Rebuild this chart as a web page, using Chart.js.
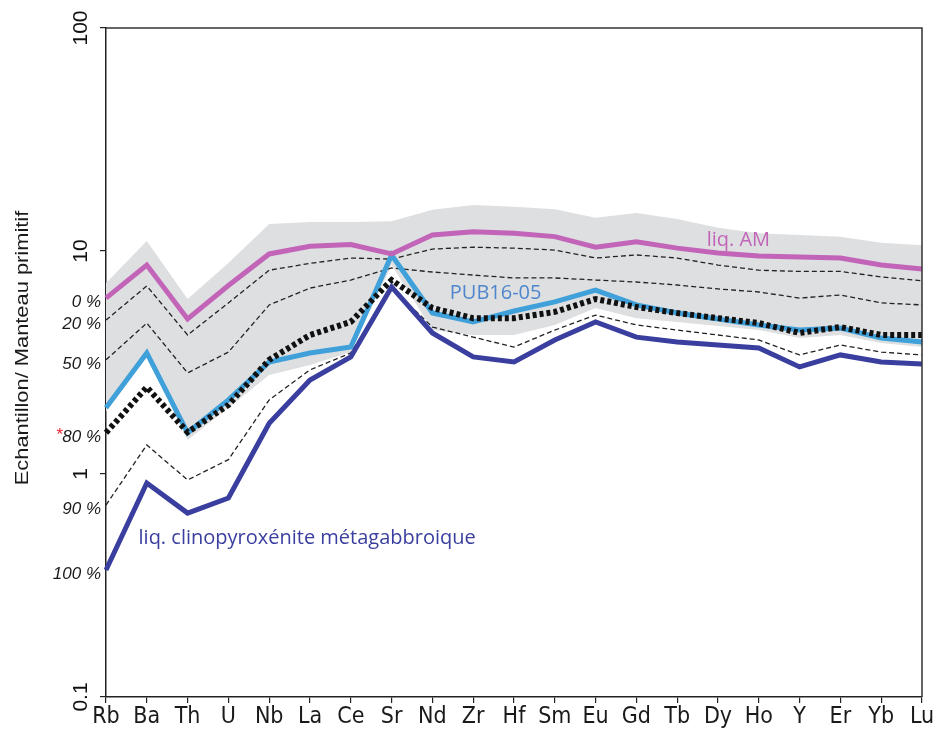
<!DOCTYPE html>
<html>
<head>
<meta charset="utf-8">
<script src="https://cdn.jsdelivr.net/npm/chart.js@4.4.1/dist/chart.umd.min.js"></script>
<style>
  html, body { margin: 0; padding: 0; background: #ffffff; }
  #wrap { width: 941px; height: 736px; position: relative; }
</style>
</head>
<body>
<div id="wrap"><canvas id="c" width="941" height="736"></canvas></div>
<script>
// ---- Data ----
const elements = ['Rb','Ba','Th','U','Nb','La','Ce','Sr','Nd','Zr','Hf','Sm','Eu','Gd','Tb','Dy','Ho','Y','Er','Yb','Lu'];
const yTickValues = [0.1, 1, 10, 100];
const yTickLabels = ['0.1', '1', '10', '100'];

const liqAM    = [6.15, 8.65, 4.96, 7.0, 9.7, 10.5, 10.7, 9.7, 11.8, 12.2, 12.0, 11.6, 10.4, 11.0, 10.3, 9.8, 9.5, 9.4, 9.3, 8.65, 8.3];
const mix20    = [4.9, 6.97, 4.2, 5.85, 8.2, 8.8, 9.3, 9.2, 10.2, 10.4, 10.3, 10.1, 9.3, 9.6, 9.3, 8.65, 8.2, 8.1, 8.1, 7.65, 7.35];
const mix50    = [3.25, 4.75, 2.84, 3.52, 5.73, 6.82, 7.41, 8.39, 8.05, 7.8, 7.57, 7.57, 7.41, 7.26, 7.04, 6.76, 6.55, 6.15, 6.35, 5.85, 5.73];
const mix80    = [1.53, 2.45, 1.54, 2.04, 3.25, 4.2, 4.81, 7.41, 5.55, 5.0, 5.0, 5.33, 6.09, 5.61, 5.27, 5.0, 4.75, 4.29, 4.56, 4.2, 4.2];
const pub1605  = [1.98, 3.49, 1.53, 2.15, 3.18, 3.49, 3.71, 9.6, 5.27, 4.81, 5.38, 5.91, 6.68, 5.73, 5.27, 4.96, 4.66, 4.42, 4.51, 4.07, 3.91];
const mix90    = [0.726, 1.35, 0.94, 1.16, 2.15, 2.93, 3.49, 6.82, 4.56, 4.11, 3.71, 4.42, 5.16, 4.66, 4.42, 4.2, 3.99, 3.42, 3.79, 3.52, 3.42];
const liqCpx   = [0.371, 0.911, 0.668, 0.78, 1.69, 2.64, 3.35, 6.9, 4.29, 3.35, 3.18, 3.99, 4.81, 4.11, 3.91, 3.79, 3.67, 3.02, 3.42, 3.18, 3.11];
const bandUpper = [7.19, 11.1, 6.09, 8.84, 13.2, 13.5, 13.5, 13.6, 15.3, 16.1, 15.8, 15.4, 14.1, 14.8, 13.9, 12.7, 12.0, 11.8, 11.6, 10.9, 10.6];
const bandLower = [1.90, 3.38, 1.42, 1.98, 2.78, 3.08, 3.52, 8.65, 4.42, 4.2, 4.2, 4.66, 5.55, 5.0, 4.81, 4.61, 4.42, 4.07, 4.2, 3.87, 3.71];

const pctLabels = ['0 %', '20 %', '50 %', '80 %', '90 %', '100 %'];
const pctSeries = [liqAM, mix20, mix50, mix80, mix90, liqCpx];

const yTitle = 'Echantillon/ Manteau primitif';
const curveLabels = [
  { text: 'liq. AM', xIndex: 15.5, yValue: 11.2, color: '#c265b9' },
  { text: 'PUB16-05', xIndex: 9.55, yValue: 6.48, color: '#4f86cc' },
  { text: 'liq. clinopyroxénite métagabbroique', xIndex: 4.93, yValue: 0.516, color: '#3a3f9f' }
];

// ---- Styles ----
const FONT = "'Liberation Sans', Arial, sans-serif";
const LABEL_FONT = "'Open Sans', 'Noto Sans', sans-serif";
const NARROW = "'Liberation Sans Narrow', 'DejaVu Sans Condensed', 'Liberation Sans', sans-serif";

const overlay = {
  id: 'overlay',
  afterDatasetsDraw(chart) {
    const { ctx, chartArea: a, scales } = chart;
    const xs = scales.x, ys = scales.y;
    ctx.save();
    // top and right frame
    ctx.strokeStyle = '#333';
    ctx.lineWidth = 1.5;
    ctx.beginPath();
    ctx.moveTo(a.left, a.top);
    ctx.lineTo(a.right, a.top);
    ctx.lineTo(a.right, a.bottom);
    ctx.stroke();

    // curve labels
    ctx.font = '20px ' + LABEL_FONT;
    ctx.textAlign = 'center';
    ctx.textBaseline = 'middle';
    curveLabels.forEach(l => {
      ctx.fillStyle = l.color;
      ctx.fillText(l.text, xs.getPixelForValue(l.xIndex), ys.getPixelForValue(l.yValue));
    });

    // percentage labels at the left of the axis
    ctx.font = 'italic 17px ' + FONT;
    ctx.textAlign = 'right';
    ctx.fillStyle = '#1a1a1a';
    pctLabels.forEach((t, i) => {
      const y = ys.getPixelForValue(pctSeries[i][0]) + 4;
      ctx.fillText(t, a.left - 5, y);
      if (t === '80 %') {
        const w = ctx.measureText(t).width;
        ctx.fillStyle = '#e8202a';
        ctx.fillText('*', a.left - 5 - w, y - 2);
        ctx.fillStyle = '#1a1a1a';
      }
    });

    // rotated y tick labels
    ctx.font = '21px ' + FONT;
    ctx.fillStyle = '#111';
    ctx.textAlign = 'center';
    ctx.textBaseline = 'middle';
    yTickValues.forEach((v, i) => {
      const y = ys.getPixelForValue(v);
      ctx.save();
      ctx.translate(81, y);
      ctx.rotate(-Math.PI / 2);
      ctx.fillText(yTickLabels[i], 0, 0);
      ctx.restore();
    });

    // y axis title
    ctx.save();
    ctx.translate(23, 348);
    ctx.rotate(-Math.PI / 2);
    ctx.scale(1.15, 1);
    ctx.font = '19px ' + FONT;
    ctx.fillStyle = '#1a1a1a';
    ctx.fillText(yTitle, 0, 0);
    ctx.restore();

    ctx.restore();
  }
};

const dashed = { borderColor: '#222', borderWidth: 1.3, borderDash: [5, 3] };

new Chart(document.getElementById('c'), {
  type: 'line',
  data: {
    labels: elements,
    datasets: [
      { data: bandUpper, borderWidth: 0, borderColor: 'rgba(0,0,0,0)', fill: '+1', backgroundColor: '#dedfe1', order: 20 },
      { data: bandLower, borderWidth: 0, borderColor: 'rgba(0,0,0,0)', fill: false, order: 19 },
      Object.assign({ data: mix20, order: 10 }, dashed),
      Object.assign({ data: mix50, order: 10 }, dashed),
      Object.assign({ data: mix90, order: 10 }, dashed),
      { data: pub1605, borderColor: '#3fa0da', borderWidth: 5, order: 6 },
      { data: mix80, borderColor: '#111', borderWidth: 6, borderDash: [4, 3], order: 5 },
      { data: liqAM, borderColor: '#c265b9', borderWidth: 5, order: 4 },
      { data: liqCpx, borderColor: '#3a3f9f', borderWidth: 5, order: 3 }
    ]
  },
  options: {
    responsive: false,
    animation: false,
    layout: { padding: { top: 28, right: 19, left: 0, bottom: 0 } },
    elements: { point: { radius: 0 }, line: { tension: 0, fill: false } },
    plugins: { legend: { display: false }, tooltip: { enabled: false } },
    scales: {
      x: {
        type: 'category',
        offset: false,
        grid: { drawOnChartArea: false, drawTicks: true, tickLength: 6, color: '#222', lineWidth: 1.2 },
        border: { display: true, color: '#222', width: 1.5 },
        ticks: { color: '#1a1a1a', font: { family: NARROW, size: 23 }, padding: 0, maxRotation: 0, minRotation: 0, autoSkip: false },
        afterFit: s => { s.height = 39; }
      },
      y: {
        type: 'logarithmic',
        min: 0.1,
        max: 100,
        afterBuildTicks: s => { s.ticks = yTickValues.map(v => ({ value: v })); },
        ticks: { display: false },
        grid: { drawOnChartArea: false, drawTicks: true, tickLength: 6, color: '#222', lineWidth: 1.2 },
        border: { display: true, color: '#222', width: 1.5 },
        afterFit: s => { s.width = 106; }
      }
    }
  },
  plugins: [overlay]
});
</script>
</body>
</html>
